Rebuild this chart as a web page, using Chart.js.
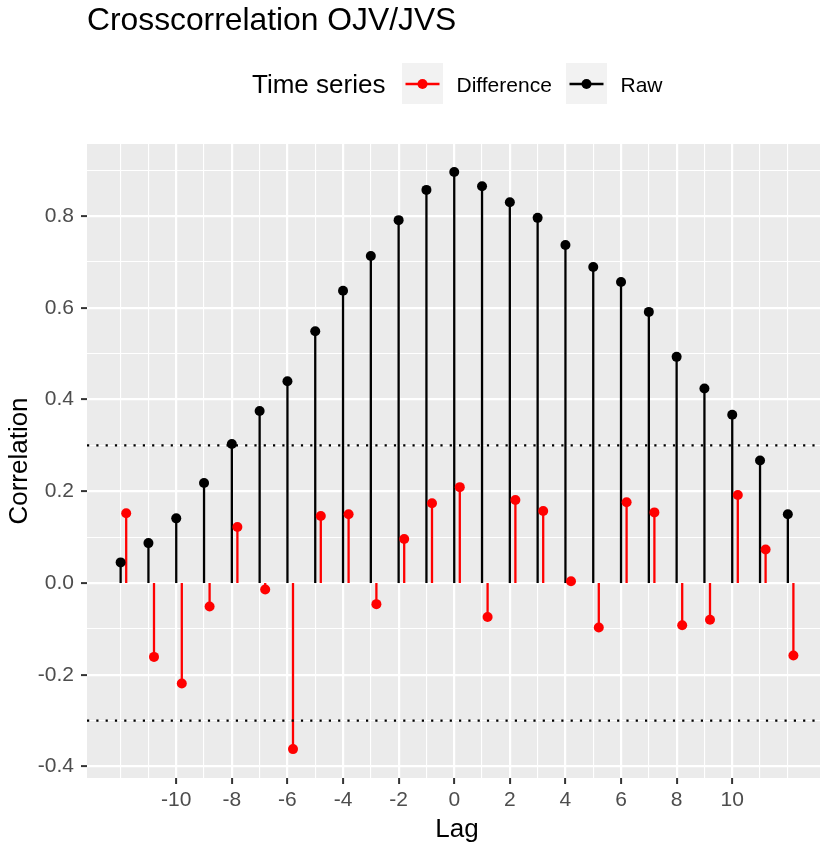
<!DOCTYPE html>
<html>
<head>
<meta charset="utf-8">
<title>Crosscorrelation OJV/JVS</title>
<script src="https://cdn.jsdelivr.net/npm/chart.js@4.4.1/dist/chart.umd.min.js"></script>
<style>
  html, body { margin: 0; padding: 0; background: #fff; }
  #chart { display: block; }
</style>
</head>
<body>
<canvas id="chart" width="820" height="843"></canvas>
<script>
// values
const lags = [-12, -11, -10, -9, -8, -7, -6, -5, -4, -3, -2, -1, 0, 1, 2, 3, 4, 5, 6, 7, 8, 9, 10, 11, 12]
const rawCorr = [0.045, 0.087, 0.141, 0.218, 0.303, 0.375, 0.440, 0.549, 0.637, 0.713, 0.791, 0.857, 0.896,
                 0.865, 0.830, 0.796, 0.737, 0.689, 0.656, 0.591, 0.493, 0.424, 0.367, 0.267, 0.150]
const diffCorr = [0.152, -0.161, -0.219, -0.051, 0.122, -0.014, -0.362, 0.146, 0.150, -0.046, 0.096, 0.174, 0.209,
                  -0.074, 0.181, 0.157, 0.004, -0.097, 0.176, 0.154, -0.092, -0.080, 0.192, 0.073, -0.158]
const diffShift = 0.2   // difference series is nudged right
const xTickLabels = [-10, -8, -6, -4, -2, 0, 2, 4, 6, 8, 10]
const yTickLabels = [-0.4, -0.2, 0.0, 0.2, 0.4, 0.6, 0.8]
const confBand = [0.3, -0.3]
const seriesNames = ['Difference', 'Raw']
const seriesColors = ['#FF0000', '#000000']

const CrossCorr = (() => {
  var FONT = "'Liberation Sans', Arial, sans-serif"
  var PANEL_BG = '#EBEBEB'
  var xMin = -13.21, xMax = 13.157
  var yMin = -0.425, yMax = 0.957

  function isMajorX(v) { return xTickLabels.includes(v) }
  function isMajorY(v) { return yTickLabels.some(t => Math.abs(t - v) < 1e-6) }

  // panel background, stems and the dotted band
  var panelPlugin = {
    id: 'panel',
    beforeDraw(chart) {
      var a = chart.chartArea, ctx = chart.ctx
      ctx.save()
      ctx.fillStyle = PANEL_BG
      ctx.fillRect(a.left, a.top, a.right - a.left, a.bottom - a.top)
      ctx.restore()
    },
    beforeDatasetsDraw(chart) {
      var ctx = chart.ctx
      var zero = chart.scales.y.getPixelForValue(0)
      ctx.save()
      ctx.lineWidth = 2.3
      chart.data.datasets.forEach((ds, i) => {
        var meta = chart.getDatasetMeta(i)
        ctx.strokeStyle = ds.backgroundColor
        meta.data.forEach(pt => {
          ctx.beginPath()
          ctx.moveTo(pt.x, zero)
          ctx.lineTo(pt.x, pt.y)
          ctx.stroke()
        })
      })
      ctx.restore()
    },
    afterDatasetsDraw(chart) {
      var a = chart.chartArea, ctx = chart.ctx
      ctx.save()
      ctx.strokeStyle = '#000'
      ctx.lineWidth = 2.2
      ctx.setLineDash([2.2, 7.1])
      confBand.forEach(v => {
        var y = chart.scales.y.getPixelForValue(v)
        ctx.beginPath()
        ctx.moveTo(a.left, y)
        ctx.lineTo(a.right, y)
        ctx.stroke()
      })
      ctx.restore()
    }
  }

  // title, legend and axis titles laid out like the ggplot original
  var textPlugin = {
    id: 'texts',
    afterDraw(chart) {
      var ctx = chart.ctx
      ctx.save()
      ctx.fillStyle = '#000'
      ctx.textBaseline = 'alphabetic'
      ctx.textAlign = 'left'

      ctx.font = '31.8px ' + FONT
      ctx.fillText('Crosscorrelation OJV/JVS', 87, 30)

      ctx.font = '26px ' + FONT
      ctx.fillText('Time series', 252, 93)

      var keyX = [402, 566], labelX = [456.5, 620.5]
      ctx.font = '21px ' + FONT
      seriesNames.forEach((name, i) => {
        ctx.fillStyle = '#F2F2F2'
        ctx.fillRect(keyX[i], 63, 41, 41)
        ctx.strokeStyle = seriesColors[i]
        ctx.fillStyle = seriesColors[i]
        ctx.lineWidth = 2.3
        ctx.beginPath()
        ctx.moveTo(keyX[i] + 3.5, 84)
        ctx.lineTo(keyX[i] + 37.5, 84)
        ctx.stroke()
        ctx.beginPath()
        ctx.arc(keyX[i] + 20.5, 84, 5, 0, Math.PI * 2)
        ctx.fill()
        ctx.fillStyle = '#000'
        ctx.fillText(name, labelX[i], 91.5)
      })

      ctx.font = '26px ' + FONT
      ctx.textAlign = 'center'
      ctx.fillText('Lag', 457, 837)

      var a = chart.chartArea
      ctx.translate(27, (a.top + a.bottom) / 2)
      ctx.rotate(-Math.PI / 2)
      ctx.fillText('Correlation', 0, 0)
      ctx.restore()
    }
  }

  function buildData() {
    return {
      datasets: [
        {
          label: seriesNames[1],
          data: lags.map((l, i) => ({ x: l, y: rawCorr[i] })),
          backgroundColor: seriesColors[1],
          borderColor: seriesColors[1]
        },
        {
          label: seriesNames[0],
          data: lags.map((l, i) => ({ x: l + diffShift, y: diffCorr[i] })),
          backgroundColor: seriesColors[0],
          borderColor: seriesColors[0]
        }
      ]
    }
  }

  function gridOpts(isMajor) {
    return {
      color: '#FFFFFF',
      lineWidth: c => isMajor(c.tick.value) ? 2.2 : 1.1,
      drawTicks: true,
      tickLength: 6,
      tickWidth: 2,
      tickColor: c => isMajor(c.tick.value) ? '#333333' : 'rgba(0,0,0,0)'
    }
  }

  function init() {
    var ctx = document.getElementById('chart').getContext('2d')
    new Chart(ctx, {
      type: 'scatter',
      data: buildData(),
      options: {
        responsive: false,
        animation: false,
        devicePixelRatio: 1,
        layout: { autoPadding: false, padding: { top: 144, left: 0, right: 0, bottom: 0 } },
        elements: {
          point: { radius: 5, borderWidth: 0, hoverRadius: 5 }
        },
        plugins: {
          legend: { display: false },
          title: { display: false },
          tooltip: { enabled: false }
        },
        scales: {
          x: {
            type: 'linear',
            min: xMin,
            max: xMax,
            border: { display: false },
            grid: gridOpts(isMajorX),
            afterBuildTicks: s => {
              s.ticks = lags.map(v => ({ value: v }))
            },
            afterFit: s => { s.height = 65 },
            ticks: {
              autoSkip: false,
              maxRotation: 0,
              padding: 4,
              color: '#4D4D4D',
              font: { family: FONT, size: 21 },
              callback: v => isMajorX(v) ? String(v) : ''
            }
          },
          y: {
            type: 'linear',
            min: yMin,
            max: yMax,
            border: { display: false },
            grid: gridOpts(isMajorY),
            afterBuildTicks: s => {
              var t = []
              for (var k = -4; k <= 9; k++) t.push({ value: k / 10 })
              s.ticks = t
            },
            afterFit: s => { s.width = 87 },
            ticks: {
              autoSkip: false,
              padding: 7,
              color: '#4D4D4D',
              font: { family: FONT, size: 21 },
              callback: v => isMajorY(v) ? v.toFixed(1) : ''
            }
          }
        }
      },
      plugins: [panelPlugin, textPlugin]
    })
  }

  return { init }
})()

CrossCorr.init()
</script>
</body>
</html>
